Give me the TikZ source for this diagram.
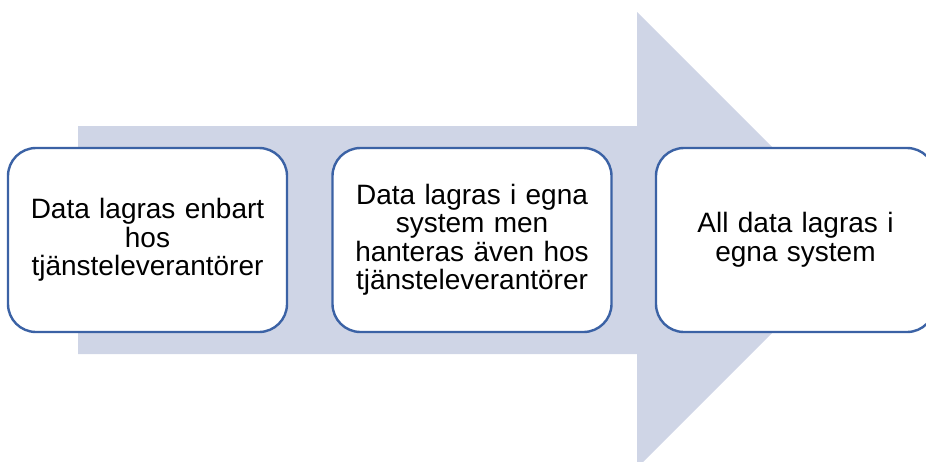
\documentclass[tikz,border=0pt]{standalone}
\usepackage{fontspec}
\setmainfont{Liberation Sans}
\definecolor{arrowfill}{RGB}{207,213,230}
\definecolor{boxline}{RGB}{59,98,165}
\tikzset{
  stagebox/.style={draw=boxline, line width=2.4pt, fill=white, rounded corners=28pt,
    minimum width=279pt, minimum height=184pt, inner sep=0pt,
    align=center, text width=265pt,
    font=\fontsize{28}{28.5}\selectfont}
}
\begin{document}
\begin{tikzpicture}[x=1pt, y=-1pt]
  \useasboundingbox (0,0) rectangle (926,461);
  \clip (0,0) rectangle (926,461);
  % broad background arrow
  \fill[arrowfill] (78,126) -- (637,126) -- (637,12) -- (865,240)
    -- (637,468) -- (637,354) -- (78,354) -- cycle;
  % stages
  \node[stagebox] (s1) at (147.5,240) {Data lagras enbart\\hos\\tjänsteleverantörer};
  \node[stagebox] (s2) at (472,240) {Data lagras i egna\\system men\\hanteras även hos\\tjänsteleverantörer};
  \node[stagebox] (s3) at (795.5,240) {All data lagras i\\egna system};
\end{tikzpicture}
\end{document}
